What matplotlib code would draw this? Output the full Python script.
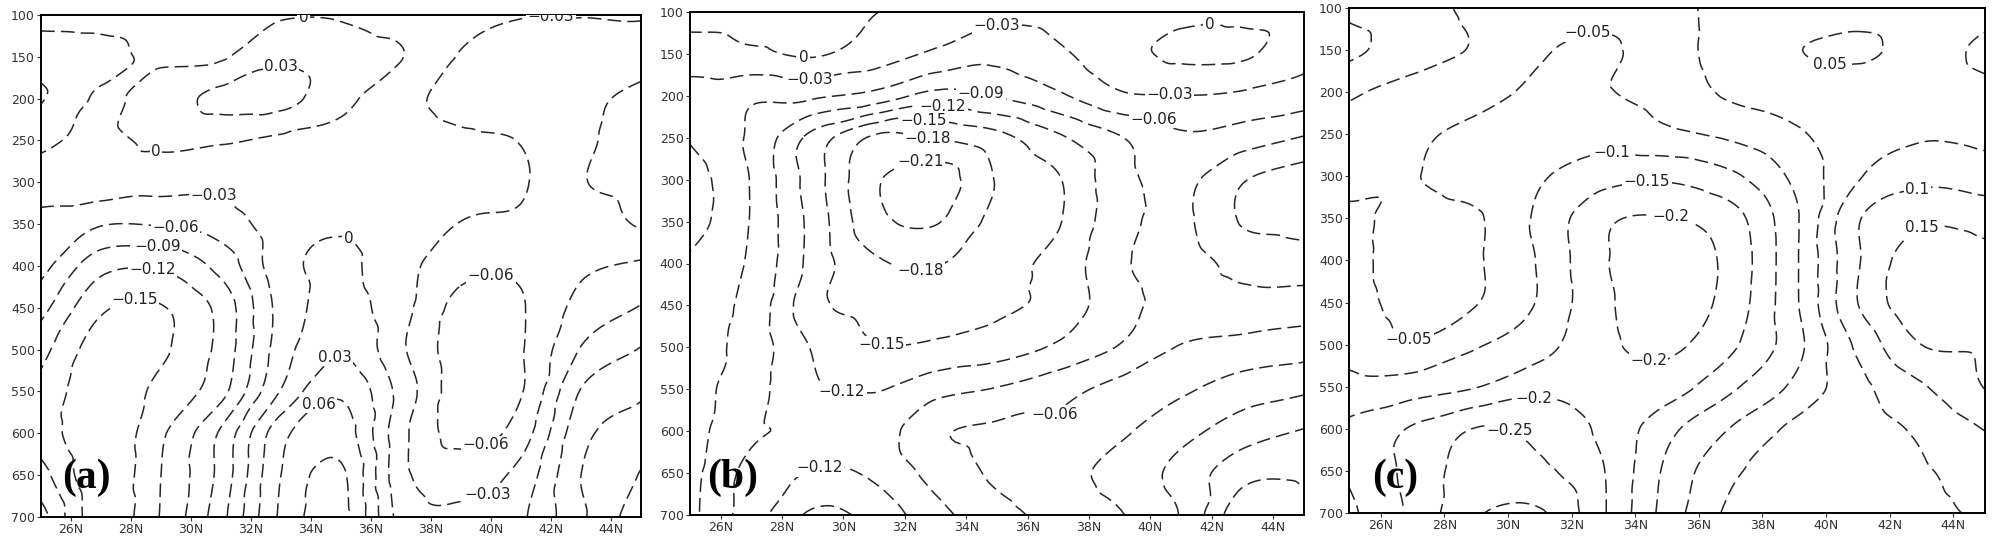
import numpy as np
import matplotlib
matplotlib.use("Agg")
import matplotlib.pyplot as plt
import matplotlib.tri as mtri

# grid the values were read on: latitude (deg N) x pressure (hPa)
LATS = [25, 27, 29, 31, 33, 35, 37, 39, 41, 43, 45]
PRESSURES = [100, 150, 200, 250, 300, 350, 400, 450, 500, 550, 600, 650, 700]

# panel (a), one row per pressure level, columns follow LATS
FIELD_A = [
    [-0.010, -0.010, -0.010, -0.005, -0.003, -0.003, -0.012, -0.022, -0.029, -0.029, -0.027],
    [0.015, 0.008, -0.004, -0.003, 0.024, 0.013, 0.001, -0.032, -0.040, -0.045, -0.050],
    [0.032, -0.004, 0.015, 0.038, 0.040, 0.008, -0.020, -0.040, -0.045, -0.055, -0.065],
    [0.006, -0.005, 0.005, 0.003, -0.005, -0.008, -0.015, -0.025, -0.031, -0.055, -0.070],
    [-0.015, -0.012, -0.018, -0.022, -0.010, -0.008, -0.012, -0.020, -0.027, -0.058, -0.070],
    [-0.040, -0.058, -0.058, -0.045, -0.015, -0.002, -0.015, -0.031, -0.035, -0.045, -0.062],
    [-0.050, -0.110, -0.115, -0.080, -0.012, 0.005, -0.020, -0.050, -0.055, -0.035, -0.025],
    [-0.080, -0.145, -0.152, -0.110, -0.020, 0.010, -0.020, -0.070, -0.062, -0.020, 0.002],
    [-0.110, -0.165, -0.155, -0.110, -0.015, 0.027, -0.025, -0.075, -0.062, 0.002, 0.032],
    [-0.128, -0.170, -0.140, -0.100, 0.002, 0.055, -0.010, -0.075, -0.062, 0.032, 0.055],
    [-0.133, -0.172, -0.125, -0.055, 0.050, 0.075, -0.020, -0.070, -0.045, 0.050, 0.075],
    [-0.110, -0.170, -0.120, -0.050, 0.060, 0.095, -0.020, -0.040, -0.020, 0.060, 0.092],
    [-0.080, -0.168, -0.118, -0.040, 0.065, 0.100, -0.010, -0.025, -0.005, 0.055, 0.110],
]

FIELD_B = [
    [0.015, 0.012, 0.008, 0.001, -0.015, -0.022, -0.020, -0.008, -0.006, -0.006, -0.012],
    [-0.015, -0.005, 0.003, -0.015, -0.035, -0.050, -0.035, -0.010, 0.005, 0.004, -0.020],
    [-0.040, -0.055, -0.055, -0.070, -0.100, -0.088, -0.065, -0.035, -0.031, -0.035, -0.045],
    [-0.032, -0.065, -0.130, -0.185, -0.178, -0.160, -0.125, -0.092, -0.065, -0.075, -0.092],
    [-0.015, -0.062, -0.135, -0.205, -0.225, -0.178, -0.152, -0.100, -0.083, -0.118, -0.135],
    [-0.015, -0.062, -0.130, -0.200, -0.212, -0.170, -0.152, -0.100, -0.085, -0.122, -0.130],
    [-0.035, -0.065, -0.130, -0.175, -0.182, -0.160, -0.140, -0.095, -0.080, -0.098, -0.105],
    [-0.045, -0.070, -0.140, -0.160, -0.163, -0.155, -0.140, -0.100, -0.080, -0.080, -0.075],
    [-0.048, -0.072, -0.122, -0.148, -0.145, -0.135, -0.115, -0.088, -0.058, -0.050, -0.043],
    [-0.048, -0.078, -0.115, -0.122, -0.100, -0.088, -0.070, -0.050, -0.035, -0.015, -0.005],
    [-0.048, -0.085, -0.092, -0.105, -0.065, -0.055, -0.055, -0.035, -0.010, 0.015, 0.032],
    [-0.050, -0.100, -0.122, -0.115, -0.080, -0.055, -0.040, -0.020, 0.010, 0.050, 0.055],
    [-0.052, -0.105, -0.155, -0.140, -0.100, -0.070, -0.050, -0.032, 0.002, 0.080, 0.065],
]

FIELD_C = [
    [0.040, 0.020, -0.010, -0.028, -0.035, -0.015, 0.015, 0.030, 0.035, 0.030, 0.040],
    [0.060, 0.025, -0.005, -0.045, -0.058, -0.020, 0.020, 0.048, 0.056, 0.040, 0.055],
    [0.008, -0.020, -0.035, -0.057, -0.053, -0.030, 0.008, 0.025, 0.030, 0.035, 0.045],
    [-0.020, -0.042, -0.060, -0.070, -0.080, -0.060, -0.040, -0.008, 0.030, 0.045, 0.040],
    [-0.030, -0.048, -0.070, -0.095, -0.130, -0.140, -0.110, -0.040, 0.045, 0.085, 0.075],
    [-0.060, -0.035, -0.045, -0.110, -0.190, -0.202, -0.170, -0.060, 0.095, 0.140, 0.130],
    [-0.065, -0.030, -0.045, -0.105, -0.195, -0.225, -0.185, -0.060, 0.095, 0.180, 0.165],
    [-0.070, -0.035, -0.048, -0.105, -0.190, -0.225, -0.180, -0.060, 0.100, 0.185, 0.175],
    [-0.085, -0.055, -0.095, -0.130, -0.190, -0.210, -0.160, -0.070, 0.060, 0.150, 0.160],
    [-0.115, -0.125, -0.148, -0.185, -0.180, -0.175, -0.110, -0.040, 0.035, 0.095, 0.152],
    [-0.160, -0.205, -0.252, -0.235, -0.190, -0.115, -0.048, 0.010, 0.030, 0.058, 0.102],
    [-0.155, -0.215, -0.275, -0.260, -0.202, -0.090, -0.010, 0.020, 0.035, 0.046, 0.068],
    [-0.140, -0.210, -0.295, -0.305, -0.205, -0.080, 0.010, 0.030, 0.040, 0.042, 0.055],
]

CLEVS_A = [-0.18, -0.15, -0.12, -0.09, -0.06, -0.03, 0.0, 0.03, 0.06, 0.09, 0.12]
CLEVS_B = [-0.24, -0.21, -0.18, -0.15, -0.12, -0.09, -0.06, -0.03, 0.0, 0.03, 0.06, 0.09]
CLEVS_C = [-0.3, -0.25, -0.2, -0.15, -0.1, -0.05, 0.0, 0.05, 0.1, 0.15]

# where the contour labels sit: (lat, hPa, level)
SPOTS_A = [(33.7, 107, 0.0), (33.0, 168, 0.03), (28.8, 278, 0.0), (30.8, 311, -0.03),
           (29.5, 344, -0.06), (28.9, 371, -0.09), (28.7, 402, -0.12), (28.1, 446, -0.15),
           (35.6, 346, 0.0), (34.9, 516, 0.03), (34.3, 568, 0.06), (40.0, 400, -0.06),
           (40.0, 628, -0.06), (40.0, 678, -0.03), (42.0, 103, -0.03)]
SPOTS_B = [(28.7, 160, 0.0), (28.9, 179, -0.03), (35.0, 110, -0.03), (41.9, 107, 0.0),
           (40.6, 196, -0.03), (40.0, 234, -0.06), (34.5, 192, -0.09), (33.2, 217, -0.12),
           (32.6, 234, -0.15), (32.7, 253, -0.18), (32.5, 276, -0.21), (32.5, 401, -0.18),
           (31.2, 497, -0.15), (30.0, 539, -0.12), (36.9, 587, -0.06), (29.3, 653, -0.12)]
SPOTS_C = [(32.6, 139, -0.05), (40.2, 158, 0.05), (33.2, 275, -0.1), (34.4, 310, -0.15),
           (35.1, 355, -0.2), (34.4, 520, -0.2), (42.9, 320, 0.1), (43.0, 363, 0.15),
           (26.9, 491, -0.05), (30.8, 563, -0.2), (30.1, 598, -0.25)]

LINE_COLOR = "#262626"
DASH = (0, (9, 4))


def fine_mesh(field):
    """Cubic refinement of the read-off grid so the isolines come out smooth."""
    nx, ny = len(LATS), len(PRESSURES)
    xx, yy = np.meshgrid(LATS, PRESSURES)
    tris = []
    for j in range(ny - 1):
        for i in range(nx - 1):
            k = j * nx + i
            tris.append([k, k + 1, k + nx])
            tris.append([k + 1, k + nx + 1, k + nx])
    z = np.asarray(field, dtype=float).ravel()
    tri = mtri.Triangulation(xx.ravel(), yy.ravel() / 25.0, np.array(tris))
    interp = mtri.CubicTriInterpolator(tri, z, kind="geom")
    fine, zf = mtri.UniformTriRefiner(tri).refine_field(z, triinterpolator=interp, subdiv=4)
    return mtri.Triangulation(fine.x, fine.y * 25.0, fine.triangles), zf


def fmt_level(v):
    v = round(float(v), 2)
    if v == 0:
        return "0"
    return f"{v:g}".replace("-", "\u2212")


def put_labels(ax, cs, spots):
    # GrADS style: horizontal label sitting on the line, line masked under it
    levs = np.asarray(cs.levels)
    paths = cs.get_paths()
    for lat, p, v in spots:
        i = int(np.argmin(np.abs(levs - v)))
        verts = paths[i].vertices
        if len(verts) == 0:
            continue
        target = ax.transData.transform((lat, p))
        pix = ax.transData.transform(verts)
        k = int(np.argmin(((pix - target) ** 2).sum(axis=1)))
        x, y = verts[k]
        ax.text(x, y, fmt_level(levs[i]), ha="center", va="center", fontsize=11,
                color="#222222", zorder=5, clip_on=True,
                bbox=dict(facecolor="white", edgecolor="none", pad=1.0))


def draw_panel(ax, field, clevs, spots, tag, tag_xy):
    mesh, z = fine_mesh(field)
    ax.set_xlim(25, 45)
    ax.set_ylim(700, 100)
    cs = ax.tricontour(mesh, z, levels=clevs, colors=LINE_COLOR,
                       linewidths=1.1, linestyles=[DASH])
    put_labels(ax, cs, spots)

    ax.set_xticks(range(26, 45, 2))
    ax.set_xticklabels([f"{v}N" for v in range(26, 45, 2)])
    ax.set_yticks(PRESSURES)
    ax.tick_params(axis="both", labelsize=9, labelcolor="#333333", color="#333333",
                   direction="out", length=3, width=0.8, pad=1.5)
    for s in ax.spines.values():
        s.set_linewidth(1.4)
    ax.text(tag_xy[0], tag_xy[1], tag, transform=ax.transAxes, ha="center", va="center",
            fontsize=30, fontweight="bold", family=["Liberation Serif", "DejaVu Serif"],
            zorder=6)


fig = plt.figure(figsize=(20, 5.46), dpi=100)
ax_a = fig.add_axes([41 / 2000, 1 - 517 / 546, 600 / 2000, 502 / 546])
ax_b = fig.add_axes([690 / 2000, 1 - 515 / 546, 614 / 2000, 503 / 546])
ax_c = fig.add_axes([1349 / 2000, 1 - 513 / 546, 636 / 2000, 505 / 546])

draw_panel(ax_a, FIELD_A, CLEVS_A, SPOTS_A, "(a)", (0.075, 0.078))
draw_panel(ax_b, FIELD_B, CLEVS_B, SPOTS_B, "(b)", (0.070, 0.074))
draw_panel(ax_c, FIELD_C, CLEVS_C, SPOTS_C, "(c)", (0.072, 0.069))

fig.savefig("out.png", dpi=100)
